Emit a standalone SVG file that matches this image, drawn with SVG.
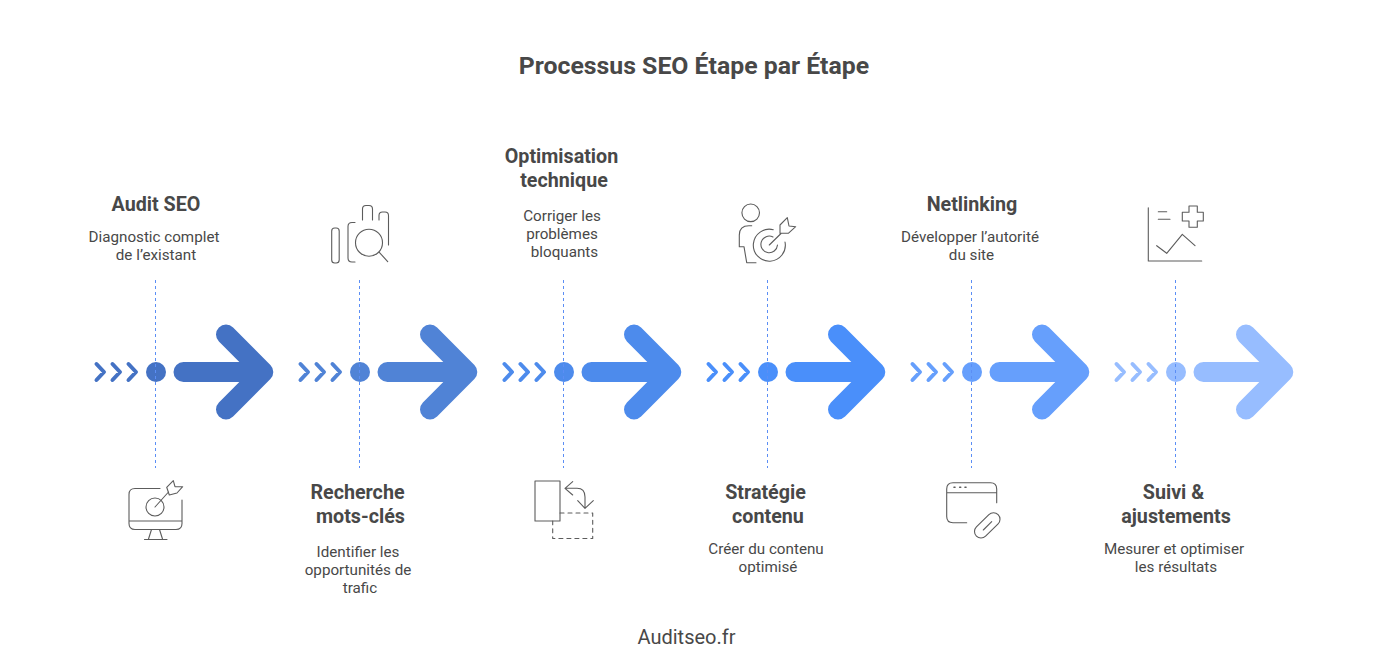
<svg xmlns="http://www.w3.org/2000/svg" width="1388" height="660" viewBox="0 0 1388 660">
<style>
text{font-family:Roboto,"Liberation Sans",sans-serif;fill:#484848;text-anchor:middle}
.t{font-size:19.700px;font-weight:700}
.h{font-size:24.800px;font-weight:700}
.d{font-size:15.200px;font-weight:400}
.f{font-size:20px;font-weight:400}
.ic{fill:none;stroke:#5c5c5c;stroke-width:1.100;stroke-linecap:round;stroke-linejoin:round}
.dash{stroke:#5b8ef5;stroke-width:1;stroke-dasharray:3 3;fill:none}
.big{fill:none;stroke-width:20;stroke-linecap:round;stroke-linejoin:round}
.sm{fill:none;stroke-width:4;stroke-linecap:round;stroke-linejoin:round}
</style>
<defs>
<g id="mark">
<path class="sm" d="M-59.500 -8L-52 0L-59.500 8M-43.500 -8L-36 0L-43.500 8M-27.500 -8L-20 0L-27.500 8"/>
<path class="big" d="M27.500 0H107M70 -37.500L107.300 0L70 37.500"/>
<circle r="10" stroke="none"/>
</g>
</defs>
<rect width="1388" height="660" fill="#fff"/>
<text class="h" x="694" y="74">Processus SEO Étape par Étape</text>
<text class="f" x="686.500" y="644">Auditseo.fr</text>
<g id="node-1">
<use href="#mark" x="156" y="372" fill="#4472c4" stroke="#4472c4"/>
<text class="t" x="156" y="211">Audit SEO</text>
<text class="d" x="154" y="242">Diagnostic complet</text>
<text class="d" x="156" y="260">de l’existant</text>
<g class="ic">
<path d="M160 488.500H135Q129 488.500 129 494.500V523.500Q129 529.500 135 529.500H176Q182 529.500 182 523.500V500M129 521H182M151.500 529.500L148.500 539M159.500 529.500L162.500 539M144.500 539.500H167"/>
<circle cx="155" cy="507" r="9"/>
<path d="M155 507L168.500 492M166.700 487.300L173.300 480.700L175 486.700L182.700 486.700L177 493L169.300 495Z"/>
</g>
</g>
<g id="node-2">
<use href="#mark" x="360" y="372" fill="#5083d6" stroke="#5083d6"/>
<text class="t" x="357.500" y="499">Recherche</text>
<text class="t" x="360.500" y="523">mots-clés</text>
<text class="d" x="358" y="557">Identifier les</text>
<text class="d" x="358" y="575">opportunités de</text>
<text class="d" x="360" y="593">trafic</text>
<g class="ic">
<rect x="331.700" y="228" width="7.500" height="35" rx="3"/>
<path d="M355 222.500H352Q348 222.500 348 226.500V258Q348 262 352 262H355M362.500 220V209Q362.500 205.500 366 205.500H369Q372.500 205.500 372.500 209V220M379 220V215.500Q379 212 382.500 212H385Q388.500 212 388.500 215.500V245M379.300 252.300L387.700 261.700"/>
<circle cx="369" cy="242.700" r="13.500"/>
</g>
</g>
<g id="node-3">
<use href="#mark" x="564" y="372" fill="#4d8bec" stroke="#4d8bec"/>
<text class="t" x="561.500" y="163">Optimisation</text>
<text class="t" x="564" y="187">technique</text>
<text class="d" x="562" y="221">Corriger les</text>
<text class="d" x="562" y="239">problèmes</text>
<text class="d" x="564.500" y="257">bloquants</text>
<g class="ic">
<rect x="535" y="481" width="25" height="40"/>
<path stroke-dasharray="4 4" d="M560 513H592.700V538.500H552.700V521"/>
<path d="M572.700 481.700L565 488.300L572.700 495M565 488.300H577Q585 488.300 585 497V508.300M577.700 500.700L585 508.300L593.300 500.700"/>
</g>
</g>
<g id="node-4">
<use href="#mark" x="768" y="372" fill="#4a8ffa" stroke="#4a8ffa"/>
<text class="t" x="765.500" y="499">Stratégie</text>
<text class="t" x="768" y="523">contenu</text>
<text class="d" x="766" y="554">Créer du contenu</text>
<text class="d" x="768" y="572">optimisé</text>
<g class="ic">
<circle cx="750.700" cy="212.800" r="8.800"/>
<path d="M751.700 225.700H749Q739.300 225.700 739.300 235V246.700H744L746.700 262.700H756"/>
<path d="M773.300 229.700A16 16 0 1 0 785 242M773 237A8.300 8.300 0 1 0 777.500 245"/>
<path d="M769.300 245L781 233.500M780 225L787.300 217.700L789 226L795.700 226.700L788.300 233.300H780Z"/>
</g>
</g>
<g id="node-5">
<use href="#mark" x="972" y="372" fill="#669ffc" stroke="#669ffc"/>
<text class="t" x="972" y="211">Netlinking</text>
<text class="d" x="970" y="242">Développer l’autorité</text>
<text class="d" x="971.500" y="260">du site</text>
<g class="ic">
<path d="M966.700 522.700H953Q946.700 522.700 946.700 516.500V489Q946.700 482.700 953 482.700H990.500Q996.700 482.700 996.700 489V502.700M946.700 492.700H996.700"/>
<path d="M954 487.300H955M959.700 487.300H960.700M965 487.300H966" stroke-width="1.600"/>
<path d="M988.900 514.700A6.500 6.500 0 0 1 998.100 523.900L985.600 536.100A6.500 6.500 0 0 1 976.400 526.900ZM983.300 530L991.700 521.700"/>
</g>
</g>
<g id="node-6">
<use href="#mark" x="1176" y="372" fill="#97bdff" stroke="#97bdff"/>
<text class="t" x="1173.500" y="499">Suivi &amp;</text>
<text class="t" x="1176" y="523">ajustements</text>
<text class="d" x="1174" y="554">Mesurer et optimiser</text>
<text class="d" x="1176" y="572">les résultats</text>
<g class="ic">
<path d="M1148.300 207.700V261H1201.700M1158.300 211.700H1166.700M1158.300 219.300H1170M1156.700 245.700L1166.700 253.300L1182.300 234.300L1195 245.700"/>
<path d="M1189 206H1197.300V212.300H1203.300V221H1197.300V227.300H1189V221H1182.300V212.300H1189Z"/>
</g>
</g>
<g id="connectors">
<path class="dash" d="M155.500 280V468M359.500 280V468M563.500 280V468M767.500 280V468M971.500 280V468M1175.500 280V468"/>
</g>
</svg>
